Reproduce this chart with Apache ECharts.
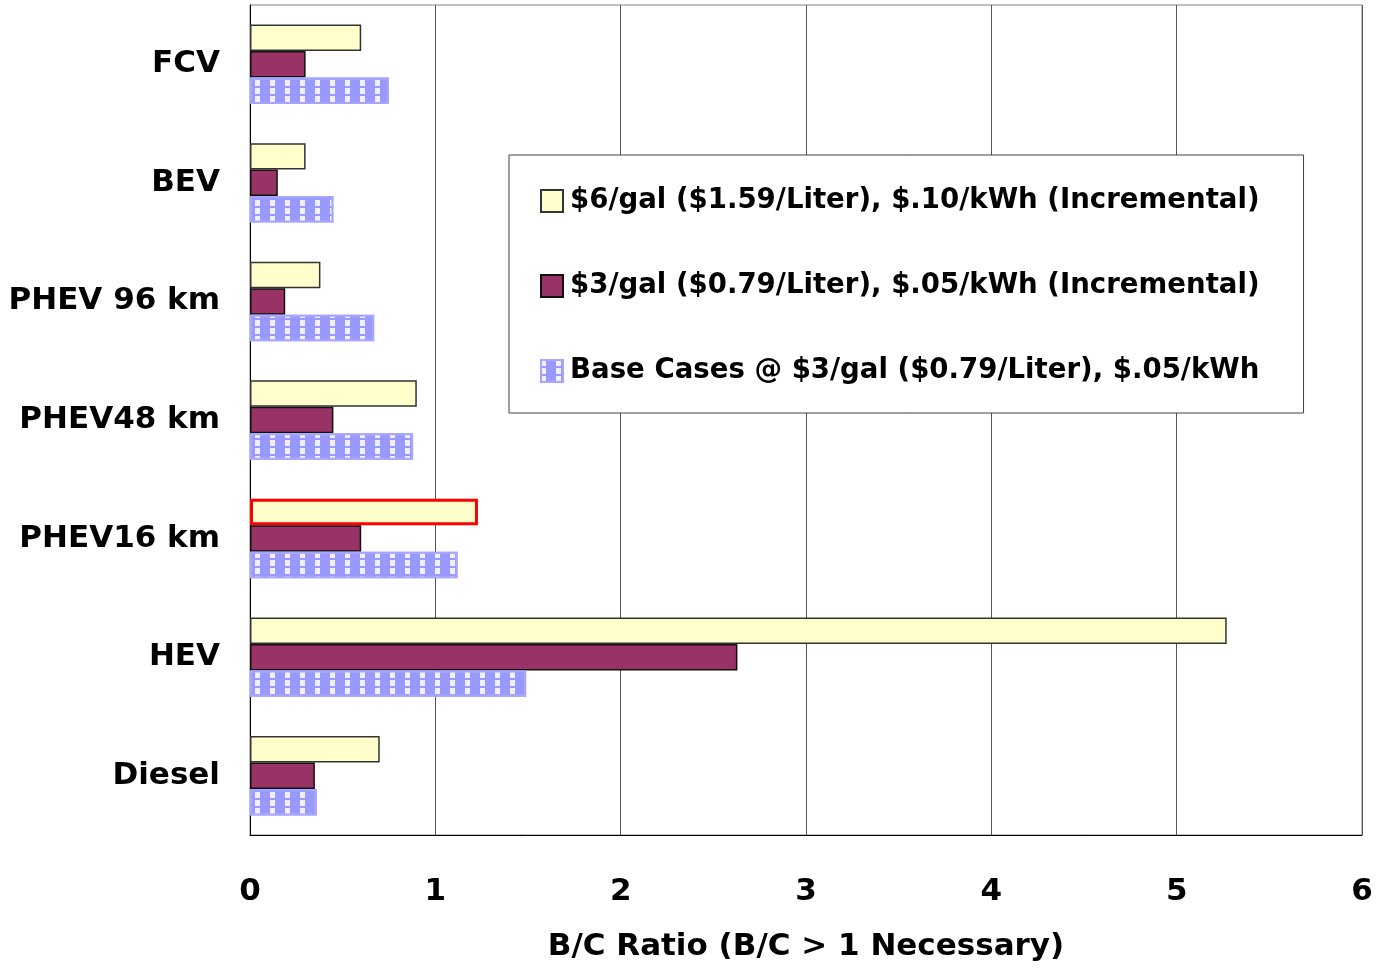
<!DOCTYPE html>
<html>
<head>
<meta charset="utf-8">
<script src="https://cdn.jsdelivr.net/npm/echarts@6/dist/echarts.min.js"></script>
<style>
  html, body { margin: 0; padding: 0; background: #fff; }
  #chart { width: 1383px; height: 973px; }
</style>
</head>
<body>
<div id="chart"></div>
<script>
const categories = ['FCV', 'BEV', 'PHEV 96 km', 'PHEV48 km', 'PHEV16 km', 'HEV', 'Diesel']
const seriesNames = [
  '$6/gal ($1.59/Liter), $.10/kWh (Incremental)',
  '$3/gal ($0.79/Liter), $.05/kWh (Incremental)',
  'Base Cases @ $3/gal ($0.79/Liter), $.05/kWh'
]
const high6 = [0.60, 0.30, 0.38, 0.90, 1.23, 5.27, 0.70]
const low3 = [0.30, 0.15, 0.19, 0.45, 0.60, 2.63, 0.35]
const baseCases = [0.75, 0.45, 0.67, 0.88, 1.12, 1.49, 0.36]
const xTicks = [0, 1, 2, 3, 4, 5, 6]

const font = 'DejaVu Sans'
const chart = echarts.init(document.getElementById('chart'))

// PHEV16 km bar of the $6 case is outlined in red
const highData = high6.map((v, i) => categories[i] === 'PHEV16 km'
  ? { value: v, itemStyle: { borderColor: '#ff0000', borderWidth: 3 } }
  : v)

const option = {
  backgroundColor: '#fff',
  animation: false,
  grid: {
    left: 250,
    right: 21,
    top: 5,
    bottom: 138,
    show: true,
    borderColor: '#808080',
    borderWidth: 1
  },
  legend: {
    orient: 'vertical',
    left: 509,
    top: 155,
    backgroundColor: '#fff',
    borderColor: '#404040',
    borderWidth: 1,
    padding: [32, 44, 28, 31],
    itemGap: 57,
    itemWidth: 22,
    itemHeight: 22,
    icon: 'rect',
    textStyle: {
      fontFamily: font,
      fontWeight: 'bold',
      fontSize: 27.6,
      color: '#000',
      padding: [0, 0, 0, 2]
    },
    data: seriesNames
  },
  xAxis: {
    type: 'value',
    min: 0,
    max: 6,
    interval: 1,
    name: 'B/C Ratio (B/C > 1 Necessary)',
    nameLocation: 'middle',
    nameGap: 96,
    nameTextStyle: { fontFamily: font, fontWeight: 'bold', fontSize: 31, color: '#000' },
    axisLine: { show: true, lineStyle: { color: '#000', width: 1 } },
    axisTick: { show: false },
    axisLabel: {
      fontFamily: font, fontWeight: 'bold', fontSize: 31, color: '#000', margin: 41,
      formatter: v => xTicks.includes(v) ? String(v) : ''
    },
    splitLine: { show: true, lineStyle: { color: '#555', width: 1 } }
  },
  yAxis: {
    type: 'category',
    inverse: true,
    data: categories,
    axisLine: { show: true, lineStyle: { color: '#000', width: 1 } },
    axisTick: { show: false },
    axisLabel: {
      fontFamily: font, fontWeight: 'bold', fontSize: 31, color: '#000', margin: 30,
      lineHeight: 38,
      padding: [7, 0, 0, 0]
    }
  },
  series: [
    {
      name: seriesNames[0],
      type: 'bar',
      data: highData,
      barGap: '0%',
      barCategoryGap: '33%',
      itemStyle: { color: '#ffffcc', borderColor: '#333', borderWidth: 1.5 }
    },
    {
      name: seriesNames[1],
      type: 'bar',
      data: low3,
      barGap: '0%',
      barCategoryGap: '33%',
      itemStyle: { color: '#993366', borderColor: '#111', borderWidth: 1.5 }
    },
    {
      name: seriesNames[2],
      type: 'bar',
      data: baseCases,
      barGap: '0%',
      barCategoryGap: '33%',
      itemStyle: {
        color: '#9999ff',
        borderColor: '#a6a6ff',
        borderWidth: 2,
        decal: {
          symbol: 'rect',
          symbolSize: 1,
          color: 'rgba(255,255,255,0.85)',
          dashArrayX: [[5, 10]],
          dashArrayY: [6, 2],
          rotation: 0
        }
      }
    }
  ]
}

chart.setOption(option)
</script>
</body>
</html>
